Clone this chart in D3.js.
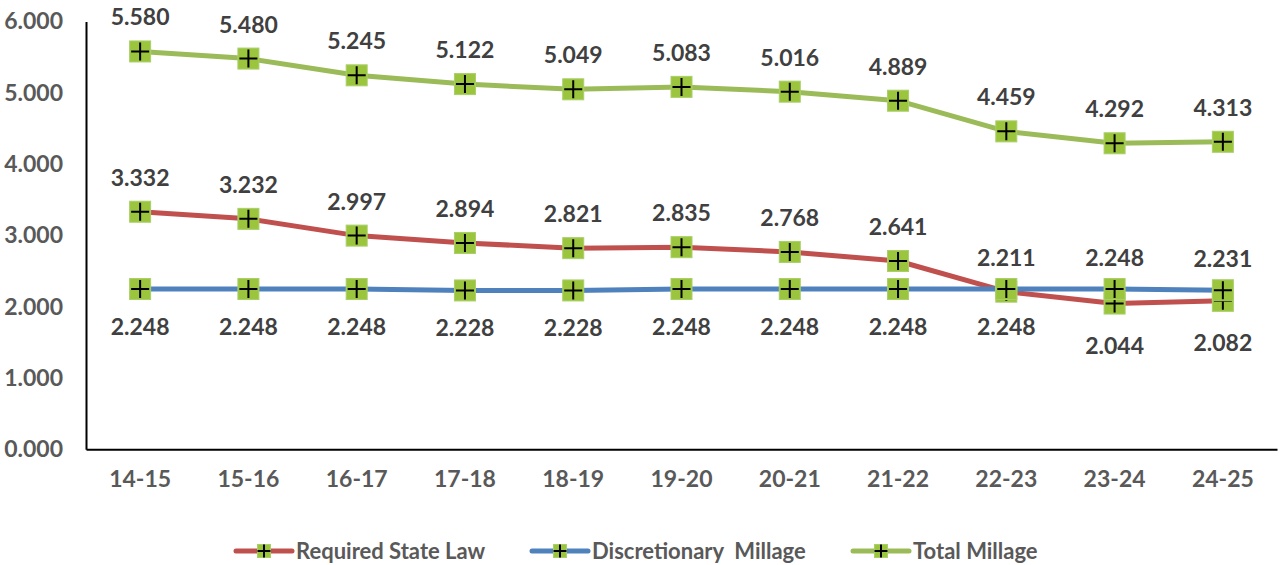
<!DOCTYPE html>
<html>
<head>
<meta charset="utf-8">
<script src="https://cdn.jsdelivr.net/npm/d3@7"></script>
<style>
  body { margin: 0; background: #fff; }
  text { font-family: Lato, "Open Sans", sans-serif; font-weight: bold; white-space: pre; }
</style>
</head>
<body>
<div id="chart"></div>
<script>
var years = ["14-15","15-16","16-17","17-18","18-19","19-20","20-21","21-22","22-23","23-24","24-25"];
var requiredState = [3.332,3.232,2.997,2.894,2.821,2.835,2.768,2.641,2.211,2.044,2.082];
var discretionary = [2.248,2.248,2.248,2.228,2.228,2.248,2.248,2.248,2.248,2.248,2.231];
var totalMillage = [5.580,5.480,5.245,5.122,5.049,5.083,5.016,4.889,4.459,4.292,4.313];
var yTicks = [0,1,2,3,4,5,6];

var series = [
  {name: "Required State Law", values: requiredState, color: "#C0504D", above: true},
  {name: "Discretionary  Millage", values: discretionary, color: "#4F81BD", above: false},
  {name: "Total Millage", values: totalMillage, color: "#9BBB59", above: true}
];

function setup() {
  var W = 1284, H = 565;
  var svg = d3.select("#chart").append("svg").attr("width", W).attr("height", H);

  var x = d3.scaleBand().domain(years).range([86, 1277]);
  var y = d3.scaleLinear().domain([0, 6]).range([449.3, 21.5]);
  var cx = function(d) { return x(d) + x.bandwidth() / 2; };

  // axes
  var yAxis = svg.append("g").attr("transform", "translate(86,0)")
    .call(d3.axisLeft(y).tickValues(yTicks).tickSize(0).tickPadding(23).tickFormat(d3.format(".3f")));
  yAxis.select(".domain").attr("stroke", "#000").attr("stroke-width", 2);
  yAxis.selectAll("text").attr("fill", "#595959").style("font-size", "23px");

  var xAxis = svg.append("g").attr("transform", "translate(0,449.3)")
    .call(d3.axisBottom(x).tickSize(0).tickPadding(21));
  xAxis.select(".domain").attr("stroke", "#000").attr("stroke-width", 2);
  xAxis.selectAll("text").attr("fill", "#595959").style("font-size", "23px");

  var line = d3.line().x(function(d, i) { return cx(years[i]); }).y(function(d) { return y(d); });

  series.forEach(function(s) {
    svg.append("path").datum(s.values)
      .attr("d", line).attr("fill", "none")
      .attr("stroke", s.color).attr("stroke-width", 5).attr("stroke-linejoin", "round");
  });

  function marker(g, px, py, size, plus) {
    g.append("rect").attr("x", px - size / 2).attr("y", py - size / 2)
      .attr("width", size).attr("height", size).attr("fill", "#9BC53D")
      .attr("stroke", "#A9CF6A").attr("stroke-width", 1);
    g.append("path")
      .attr("d", "M" + (px - plus / 2) + "," + py + "H" + (px + plus / 2) + "M" + px + "," + (py - plus / 2) + "V" + (py + plus / 2))
      .attr("stroke", "#000").attr("stroke-width", 2);
  }

  series.forEach(function(s) {
    var g = svg.append("g");
    s.values.forEach(function(v, i) { marker(g, cx(years[i]), y(v), 21, 18); });
  });

  // data labels (last two points swap sides for red/blue, as in original)
  series.forEach(function(s, si) {
    s.values.forEach(function(v, i) {
      var dy = s.above ? -26 : 46;
      if (si === 0 && i >= 9) dy = 50;
      if (si === 1 && i >= 9) dy = -23;
      svg.append("text")
        .attr("x", cx(years[i])).attr("y", y(v) + dy)
        .attr("text-anchor", "middle").attr("fill", "#404040")
        .style("font-size", "23px")
        .text(d3.format(".3f")(v));
    });
  });

  // legend
  var legendPos = [236, 532, 853];
  series.forEach(function(s, i) {
    var g = svg.append("g");
    var lx = legendPos[i], ly = 551;
    g.append("line").attr("x1", lx).attr("x2", lx + 56).attr("y1", ly).attr("y2", ly)
      .attr("stroke", s.color).attr("stroke-width", 5).attr("stroke-linecap", "round");
    marker(g, lx + 28, ly, 13, 13);
    g.append("text").attr("x", lx + 60).attr("y", ly + 8)
      .attr("fill", "#595959").style("font-size", "22px")
      .text(s.name);
  });
}

window.addEventListener("load", setup);
</script>
</body>
</html>
